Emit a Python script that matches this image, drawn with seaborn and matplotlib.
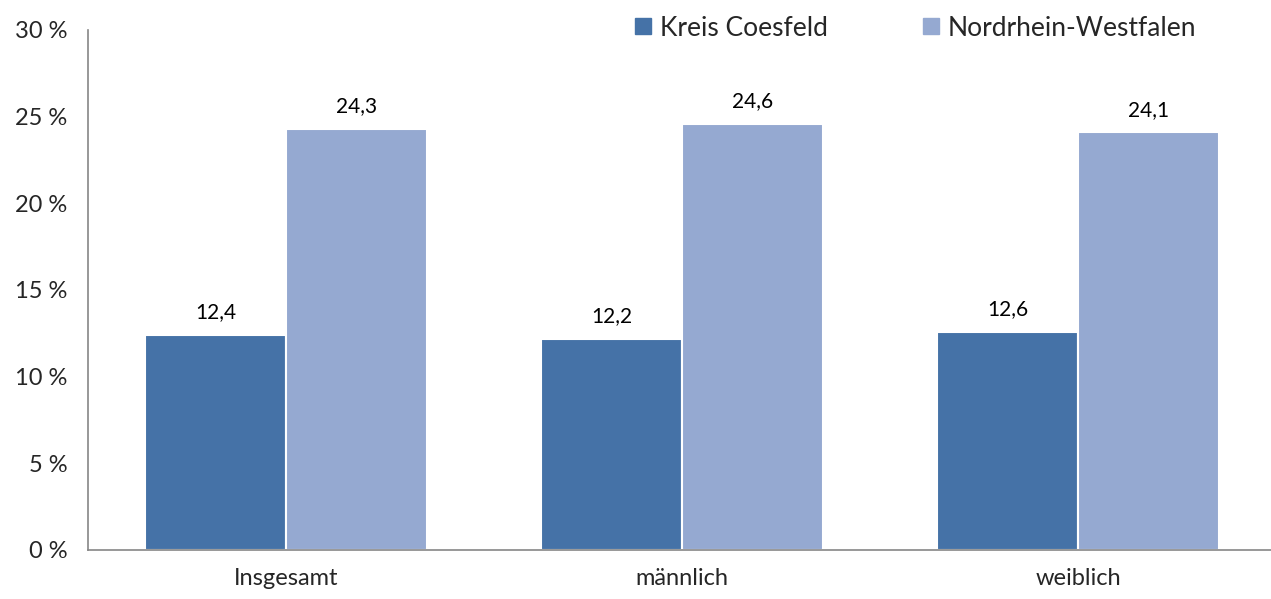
import matplotlib
matplotlib.use("Agg")
import matplotlib.pyplot as plt
import seaborn as sns
import pandas as pd
from matplotlib.lines import Line2D

categories = ["Insgesamt", "männlich", "weiblich"]
series = ["Kreis Coesfeld", "Nordrhein-Westfalen"]
coesfeld = [12.4, 12.2, 12.6]
nrw = [24.3, 24.6, 24.1]
yticks = [0, 5, 10, 15, 20, 25, 30]
colors = ["#4572A7", "#95A9D1"]

df = pd.DataFrame({
    "cat": categories * 2,
    "series": [series[0]] * 3 + [series[1]] * 3,
    "val": coesfeld + nrw,
})

sns.set_style("white")
plt.rcParams["font.family"] = ["Lato", "DejaVu Sans"]

fig = plt.figure(figsize=(12.71, 5.99), dpi=100)
ax = fig.add_axes([88 / 1271, 49 / 599, 1188 / 1271, 520 / 599])

sns.barplot(data=df, x="cat", y="val", hue="series", palette=colors, saturation=1,
            width=0.71, ax=ax, edgecolor="white", linewidth=1.5, legend=False)

for cont in ax.containers:
    ax.bar_label(cont, labels=[f"{v:.1f}".replace(".", ",") for v in cont.datavalues],
                 padding=9, fontsize=15, color="#000000")

ax.set_xlim(-0.5, 2.5)
ax.set_ylim(0, 30)
ax.set_yticks(yticks)
ax.set_yticklabels([f"{t} %" for t in yticks], fontsize=17)
ax.set_xticks([0, 1, 2])
ax.set_xticklabels(categories, fontsize=17)
ax.set_xticks([-0.5, 0.5, 1.5, 2.5], minor=True)
ax.tick_params(axis="x", which="major", length=0, pad=13)
ax.tick_params(axis="x", which="minor", length=7, width=1.2, color="#868686", direction="out")
ax.tick_params(axis="y", length=7, width=1.2, color="#868686", direction="out", pad=8)
ax.set_xlabel("")
ax.set_ylabel("")
for s in ["top", "right"]:
    ax.spines[s].set_visible(False)
for s in ["left", "bottom"]:
    ax.spines[s].set_color("#868686")
    ax.spines[s].set_linewidth(1.2)

handles = [Line2D([0], [0], marker="s", linestyle="", markersize=11,
                  markerfacecolor=c, markeredgecolor=c) for c in colors]
fig.legend(handles, series, loc="center", bbox_to_anchor=(913 / 1271, 1 - 28 / 599),
           ncol=2, frameon=False, fontsize=19, handletextpad=0.15, handlelength=1.0,
           columnspacing=3.4, bbox_transform=fig.transFigure)

fig.savefig("out.png", dpi=100)
